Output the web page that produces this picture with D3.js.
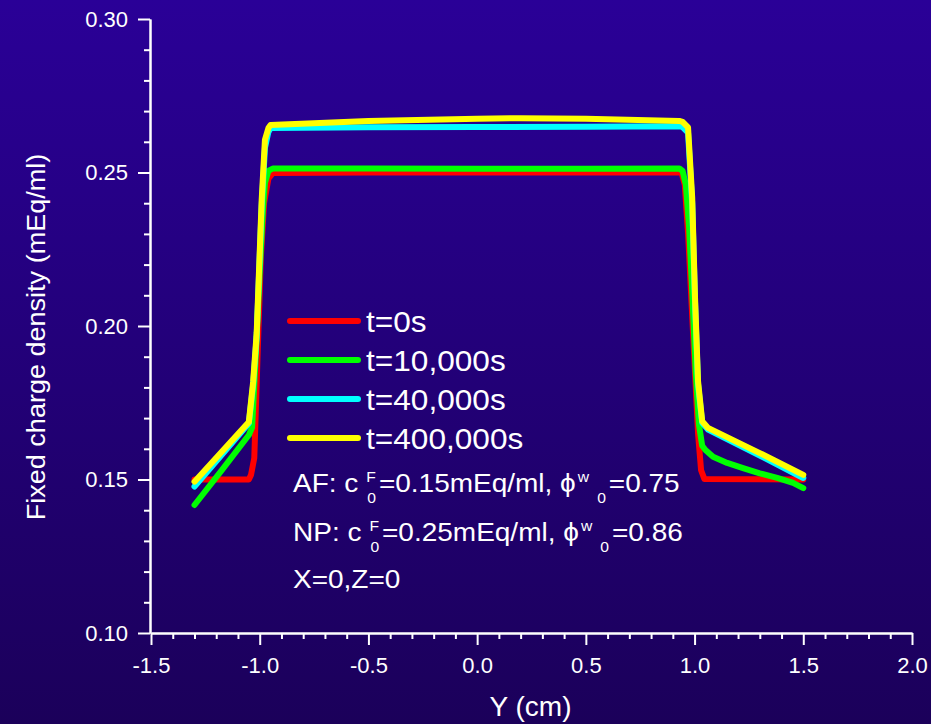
<!DOCTYPE html>
<html><head><meta charset="utf-8">
<script src="https://cdn.jsdelivr.net/npm/d3@7"></script>
<style>html,body{margin:0;padding:0;background:#22007a;} svg{display:block;}</style>
</head><body><svg id="chart" width="931" height="724"></svg>
<script>
// ---------- data ----------
const seriesNames  = ["t=0s", "t=10,000s", "t=40,000s", "t=400,000s"];
const seriesColors = ["#ff0000", "#00ff00", "#00ffff", "#ffff00"];

const redY = [-1.3, -1.05, -1.04, -1.025, -1.01, -0.995, -0.98, -0.96, -0.94, -0.5, 0.0, 0.5, 0.94, 0.955, 0.97, 0.993, 1.016, 1.03, 1.045, 1.5];
const redV = [0.150, 0.150, 0.1515, 0.157, 0.190, 0.222, 0.240, 0.248, 0.2498, 0.250, 0.250, 0.250, 0.250, 0.246, 0.2303, 0.1977, 0.165, 0.153, 0.1502, 0.150];

const greenY = [-1.3, -1.175, -1.05, -1.035, -1.015, -0.999, -0.985, -0.976, -0.96, -0.94, -0.5, 0.0, 0.5, 0.93, 0.945, 0.96, 0.975, 0.99, 1.005, 1.02, 1.035, 1.05, 1.085, 1.15, 1.223, 1.30, 1.38, 1.453, 1.5];
const greenV = [0.1417, 0.153, 0.1645, 0.167, 0.195, 0.219, 0.238, 0.2466, 0.2505, 0.2513, 0.2513, 0.2512, 0.2512, 0.2513, 0.2505, 0.246, 0.232, 0.210, 0.185, 0.168, 0.161, 0.1596, 0.1574, 0.1554, 0.1537, 0.152, 0.1505, 0.1489, 0.1472];

const cyanY = [-1.3, -1.05, -1.03, -1.014, -0.991, -0.976, -0.96, -0.95, -0.5, 0.0, 0.5, 0.93, 0.945, 0.97, 0.989, 1.002, 1.016, 1.035, 1.062, 1.3, 1.5];
const cyanV = [0.1477, 0.1683, 0.181, 0.1965, 0.239, 0.258, 0.2632, 0.2645, 0.2647, 0.2648, 0.2649, 0.2651, 0.2648, 0.263, 0.240, 0.208, 0.181, 0.1685, 0.1663, 0.1578, 0.1505];

const yellowY = [-1.3, -1.05, -1.03, -1.014, -0.991, -0.976, -0.96, -0.95, -0.5, 0.0, 0.2, 0.5, 0.93, 0.945, 0.97, 0.989, 1.002, 1.016, 1.035, 1.062, 1.3, 1.5];
const yellowV = [0.1493, 0.1687, 0.182, 0.1977, 0.241, 0.2606, 0.2645, 0.2655, 0.2668, 0.2675, 0.2677, 0.2675, 0.2668, 0.2665, 0.2647, 0.2419, 0.2093, 0.182, 0.169, 0.1668, 0.1586, 0.1515];

const xTickValues = [-1.5, -1.0, -0.5, 0.0, 0.5, 1.0, 1.5, 2.0];
const yTickValues = [0.10, 0.15, 0.20, 0.25, 0.30];
const xTitle = "Y (cm)";
const yTitle = "Fixed charge density (mEq/ml)";
const annoAF = {pre: "AF: c", cSup: "F", cSub: "0", mid: "=0.15mEq/ml, \u03D5", pSup: "w", pSub: "0", post: "=0.75"};
const annoNP = {pre: "NP: c", cSup: "F", cSub: "0", mid: "=0.25mEq/ml, \u03D5", pSup: "w", pSub: "0", post: "=0.86"};
const annoXZ = "X=0,Z=0";

// ---------- setup ----------
const W = 931, H = 724;
const FONT = "'Liberation Sans', Arial, Helvetica, sans-serif";
const svg = d3.select("#chart");

const defs = svg.append("defs");
const grad = defs.append("linearGradient").attr("id", "bg").attr("x1", 0).attr("y1", 0).attr("x2", 0).attr("y2", 1);
grad.append("stop").attr("offset", "0%").attr("stop-color", "#2a0097");
grad.append("stop").attr("offset", "100%").attr("stop-color", "#1b005a");
svg.append("rect").attr("width", W).attr("height", H).attr("fill", "url(#bg)");

const x = d3.scaleLinear().domain([-1.5, 2.0]).range([151, 912]);
const y = d3.scaleLinear().domain([0.10, 0.30]).range([633, 19]);

// ---------- curves ----------
const series = [
  {Y: redY, V: redV},
  {Y: greenY, V: greenV},
  {Y: cyanY, V: cyanV},
  {Y: yellowY, V: yellowV}
];
const line = d3.line().x(d => x(d[0])).y(d => y(d[1])).curve(d3.curveLinear);
series.forEach((s, i) => {
  const pts = s.Y.map((v, j) => [v, s.V[j]]);
  svg.append("path").datum(pts)
    .attr("d", line)
    .attr("fill", "none")
    .attr("stroke", seriesColors[i])
    .attr("stroke-width", 6)
    .attr("stroke-linecap", "round")
    .attr("stroke-linejoin", "round");
});

// ---------- axes ----------
const hyph = f => (d => f(d).replace("\u2212", "-"));
function styleAxis(g) {
  g.selectAll("path.domain").attr("stroke", "#ffffff").attr("stroke-width", 2);
  g.selectAll(".tick line").attr("stroke", "#ffffff").attr("stroke-width", 2);
  g.selectAll(".tick text").attr("fill", "#ffffff").style("font-family", FONT).style("font-size", "22px");
}
const xMinor = d3.range(-15, 21).map(v => v / 10).filter(v => Math.abs(v * 2 - Math.round(v * 2)) > 1e-6);
const yMinor = d3.range(10, 31).map(v => v / 100).filter(v => Math.abs(v * 20 - Math.round(v * 20)) > 1e-6);

const gxMinor = svg.append("g").attr("transform", "translate(0,633)")
  .call(d3.axisBottom(x).tickValues(xMinor).tickSize(6).tickSizeOuter(0).tickFormat(""));
styleAxis(gxMinor);
const gx = svg.append("g").attr("transform", "translate(0,633)")
  .call(d3.axisBottom(x).tickValues(xTickValues).tickSize(12).tickSizeOuter(0).tickPadding(12).tickFormat(hyph(d3.format(".1f"))));
styleAxis(gx);

const gyMinor = svg.append("g").attr("transform", "translate(150,0)")
  .call(d3.axisLeft(y).tickValues(yMinor).tickSize(6).tickSizeOuter(0).tickFormat(""));
styleAxis(gyMinor);
const gy = svg.append("g").attr("transform", "translate(150,0)")
  .call(d3.axisLeft(y).tickValues(yTickValues).tickSize(12).tickSizeOuter(0).tickPadding(10).tickFormat(d3.format(".2f")));
styleAxis(gy);

// axis titles
svg.append("text").attr("x", 530.5).attr("y", 716).attr("text-anchor", "middle")
  .attr("fill", "#fff").style("font-family", FONT).style("font-size", "28px").text(xTitle);
svg.append("g").attr("transform", "translate(45,337) rotate(-90) scale(1.04,1)")
  .append("text").attr("text-anchor", "middle").attr("fill", "#fff")
  .style("font-family", FONT).style("font-size", "26px").text(yTitle);

// ---------- legend ----------
const legendRows = [321, 360, 399, 438];
seriesNames.forEach((name, i) => {
  svg.append("line").attr("x1", 290).attr("x2", 358).attr("y1", legendRows[i]).attr("y2", legendRows[i])
    .attr("stroke", seriesColors[i]).attr("stroke-width", 6).attr("stroke-linecap", "round");
  svg.append("g").attr("transform", `translate(366,${legendRows[i] + 11}) scale(1.09,1)`)
    .append("text").attr("fill", "#fff").style("font-family", FONT).style("font-size", "29px").text(name);
});

// ---------- annotations ----------
const SX = 1.12;
function annoLine(a, baseline) {
  const g = svg.append("g").attr("transform", `translate(293,${baseline}) scale(${SX},1)`);
  let cx = 0;
  function put(txt, size, dy) {
    const t = g.append("text").attr("x", cx).attr("y", dy).attr("fill", "#fff")
      .style("font-family", FONT).style("font-size", size + "px").text(txt);
    return t.node().getComputedTextLength();
  }
  cx += put(a.pre, 25, 0);
  cx += 8 / SX;
  const wF = put(a.cSup, 14, -10);
  cx += 1 / SX;
  const w0 = put(a.cSub, 14, 11);
  cx += Math.max(wF, w0) + 2 / SX;
  cx += put(a.mid, 25, 0);
  cx += 2 / SX;
  const ww = put(a.pSup, 14, -10);
  cx += ww + 8 / SX;
  const w02 = put(a.pSub, 14, 11);
  cx += w02 + 3 / SX;
  put(a.post, 25, 0);
}
annoLine(annoAF, 492);
annoLine(annoNP, 541);
svg.append("g").attr("transform", `translate(293,588) scale(${SX},1)`)
  .append("text").attr("fill", "#fff").style("font-family", FONT).style("font-size", "25px").text(annoXZ);
</script>
</body></html>
